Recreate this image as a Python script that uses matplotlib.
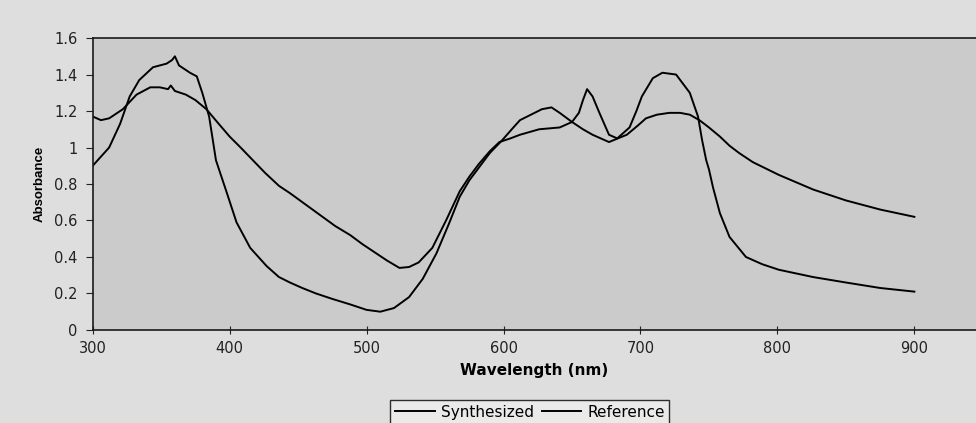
import numpy as np
import matplotlib
matplotlib.use("Agg")
import matplotlib.pyplot as plt

plt.rcParams['font.family'] = ['DejaVu Sans']

# Synthesized spectrum (wavelength nm, absorbance)
synth_nm = [300, 306, 312, 320, 327, 334, 344, 354, 358, 360, 363, 371, 376,
            380, 385, 390, 398, 405, 415, 427, 436, 444, 453, 463, 475, 488,
            500, 510, 520, 531, 541, 551, 560, 568, 575, 582, 590, 599, 606,
            612, 620, 628, 635, 641, 650, 658, 665, 677, 690, 698, 704, 712,
            721, 729, 736, 743, 750, 758, 765, 772, 782, 801, 826, 850, 875,
            900]
synth_abs = [0.90, 0.95, 1.00, 1.13, 1.28, 1.37, 1.44, 1.46, 1.48, 1.50, 1.45,
             1.41, 1.39, 1.30, 1.17, 0.93, 0.75, 0.59, 0.45, 0.35, 0.29, 0.26,
             0.23, 0.20, 0.17, 0.14, 0.11, 0.10, 0.12, 0.18, 0.28, 0.42, 0.58,
             0.73, 0.82, 0.89, 0.97, 1.04, 1.10, 1.15, 1.18, 1.21, 1.22, 1.19,
             1.14, 1.10, 1.07, 1.03, 1.07, 1.12, 1.16, 1.18, 1.19, 1.19, 1.18,
             1.15, 1.11, 1.06, 1.01, 0.97, 0.92, 0.85, 0.77, 0.71, 0.66, 0.62]

# Reference spectrum
ref_nm = [300, 306, 312, 322, 332, 342, 349, 355, 357, 360, 368, 375, 383,
          392, 400, 408, 417, 426, 436, 444, 455, 466, 477, 488, 497, 505,
          515, 524, 531, 538, 548, 558, 568, 575, 582, 590, 597, 605, 612,
          626, 641, 650, 655, 658, 661, 665, 670, 677, 683, 692, 697, 701,
          709, 716, 726, 736, 742, 745, 748, 750, 753, 758, 765, 777, 789,
          801, 826, 850, 875, 900]
ref_abs = [1.17, 1.15, 1.16, 1.21, 1.29, 1.33, 1.33, 1.32, 1.34, 1.31, 1.29,
           1.26, 1.21, 1.13, 1.06, 1.00, 0.93, 0.86, 0.79, 0.75, 0.69, 0.63,
           0.57, 0.52, 0.47, 0.43, 0.38, 0.34, 0.345, 0.37, 0.45, 0.60, 0.76,
           0.84, 0.91, 0.98, 1.03, 1.05, 1.07, 1.10, 1.11, 1.14, 1.19, 1.26,
           1.32, 1.28, 1.19, 1.07, 1.05, 1.11, 1.20, 1.28, 1.38, 1.41, 1.40,
           1.30, 1.17, 1.04, 0.93, 0.88, 0.78, 0.64, 0.51, 0.40, 0.36, 0.33,
           0.29, 0.26, 0.23, 0.21]

x_ticks = [300, 400, 500, 600, 700, 800, 900]
y_ticks = [0, 0.2, 0.4, 0.6, 0.8, 1, 1.2, 1.4, 1.6]
y_labels = ["0", "0.2", "0.4", "0.6", "0.8", "1", "1.2", "1.4", "1.6"]

fig = plt.figure(figsize=(9.76, 4.23), dpi=100, facecolor="#dedede")
ax = fig.add_axes([0.095, 0.22, 0.905, 0.69], facecolor="#cbcbcb")

ax.plot(synth_nm, synth_abs, color="black", lw=1.4, label="Synthesized")
ax.plot(ref_nm, ref_abs, color="black", lw=1.4, label="Reference")

ax.set_xlim(300, 945)
ax.set_ylim(0, 1.6)
ax.set_xticks(x_ticks)
ax.set_yticks(y_ticks)
ax.set_yticklabels(y_labels)
ax.tick_params(axis="y", direction="out", length=5, labelsize=10.5, colors="#222222", pad=6)
ax.tick_params(axis="x", direction="inout", length=6, labelsize=10.5, colors="#222222", pad=5)
ax.spines["right"].set_visible(False)
for s in ["left", "bottom", "top"]:
    ax.spines[s].set_linewidth(1.2)
    ax.spines[s].set_color("#1a1a1a")

ax.set_xlabel("Wavelength (nm)", fontsize=11, fontweight="bold", labelpad=5)
ax.set_ylabel("Absorbance", fontsize=9.5, fontweight="bold", labelpad=6,
              family=["Liberation Sans"])

leg = fig.legend(loc="center", bbox_to_anchor=(0.543, 0.026), ncol=2,
                 fontsize=11, frameon=True, fancybox=False, handlelength=2.6,
                 columnspacing=0.5, handletextpad=0.4, borderpad=0.3)
leg.get_frame().set_edgecolor("black")
leg.get_frame().set_facecolor("#eeeeee")
leg.get_frame().set_linewidth(1.0)

fig.savefig("out.png", dpi=100, facecolor=fig.get_facecolor())
